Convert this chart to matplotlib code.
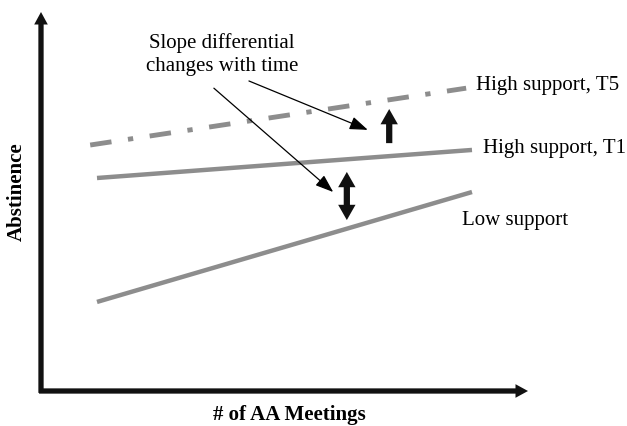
import matplotlib
matplotlib.use("Agg")
import matplotlib.pyplot as plt

plt.rcParams["font.family"] = ["Liberation Serif", "DejaVu Serif"]
plt.rcParams["lines.scale_dashes"] = False

# conceptual lines: x = # of AA meetings, y = abstinence (arbitrary units 0..10)
t5_x = [1.01, 8.73]
t5_y = [6.49, 7.99]
t1_x = [1.15, 8.85]
t1_y = [5.62, 6.36]
low_x = [1.15, 8.85]
low_y = [2.35, 5.25]

series_labels = ["High support, T5", "High support, T1", "Low support"]
note_lines = ["Slope differential", "changes with time"]
x_label = "# of AA Meetings"
y_label = "Abstinence"

GRAY = "#8d8d8d"

fig = plt.figure(figsize=(6.27, 4.26), dpi=100)
ax = fig.add_axes([41 / 627, 35 / 426, 487 / 627, 379 / 426])
ax.set_xlim(0, 10)
ax.set_ylim(0, 10)
ax.axis("off")

# axes drawn as arrows
axis_style = dict(arrowstyle="simple,head_length=0.9,head_width=0.98,tail_width=0.38",
                  color="#111111", shrinkA=0, shrinkB=0, mutation_scale=10, lw=0)
ax.annotate("", xy=(10, 0), xytext=(-0.04, 0), arrowprops=axis_style,
            annotation_clip=False)
ax.annotate("", xy=(0, 10), xytext=(0, -0.05), arrowprops=axis_style,
            annotation_clip=False)

ax.text(5.09, -0.63, x_label, ha="center", va="center", fontsize=15,
        fontweight="bold")
ax.text(-0.49, 5.25, y_label, ha="center", va="center", fontsize=15,
        fontweight="bold", rotation=90)

# lines
l5, = ax.plot(t5_x, t5_y, color=GRAY, lw=3.5, solid_capstyle="butt",
              dash_capstyle="butt", clip_on=False)
l5.set_dashes((15.5, 12, 3.8, 12))
ax.plot(t1_x, t1_y, color=GRAY, lw=3.2, solid_capstyle="butt", clip_on=False)
ax.plot(low_x, low_y, color=GRAY, lw=3.2, solid_capstyle="butt", clip_on=False)

ax.text(8.93, 8.07, series_labels[0], ha="left", va="center", fontsize=15)
ax.text(9.08, 6.41, series_labels[1], ha="left", va="center", fontsize=15)
ax.text(8.64, 4.51, series_labels[2], ha="left", va="center", fontsize=15)

ax.text(3.72, 9.18, note_lines[0], ha="center", va="center", fontsize=15)
ax.text(3.72, 8.55, note_lines[1], ha="center", va="center", fontsize=15)

thin = dict(arrowstyle="-|>,head_length=0.55,head_width=0.2", lw=0.9,
            color="black", shrinkA=0, shrinkB=0, mutation_scale=20)
ax.annotate("", xy=(6.71, 6.89), xytext=(4.27, 8.18), arrowprops=thin)
ax.annotate("", xy=(6.0, 5.25), xytext=(3.55, 7.99), arrowprops=thin)

fat = dict(arrowstyle="simple,head_length=1.1,head_width=1.25,tail_width=0.45",
           color="#111111", shrinkA=0, shrinkB=0, mutation_scale=10, lw=0)
ax.annotate("", xy=(7.15, 7.44), xytext=(7.15, 6.54), arrowprops=fat)
mid = (5.78 + 4.51) / 2
ax.annotate("", xy=(6.28, 5.78), xytext=(6.28, mid), arrowprops=fat)
ax.annotate("", xy=(6.28, 4.51), xytext=(6.28, mid), arrowprops=fat)

fig.savefig("out.png", dpi=100)
